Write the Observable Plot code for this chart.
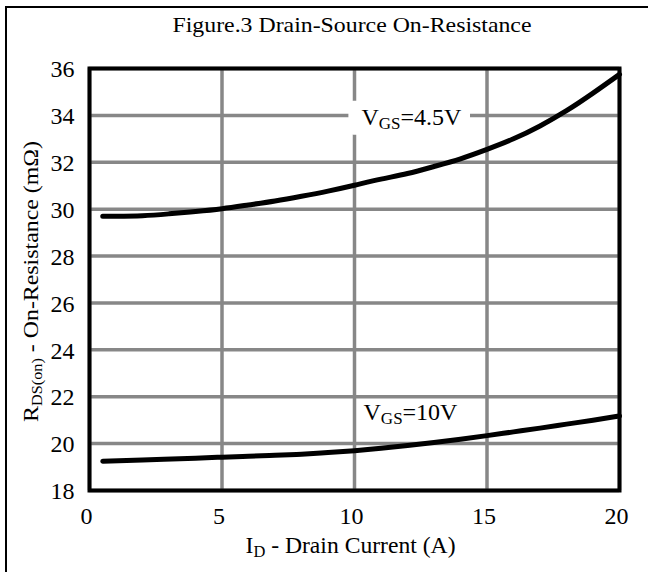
<!DOCTYPE html>
<html>
<head>
<meta charset="utf-8">
<script src="https://cdn.jsdelivr.net/npm/d3@7"></script>
<script src="https://cdn.jsdelivr.net/npm/@observablehq/plot@0.6"></script>
<style>
  html, body { margin: 0; padding: 0; background: #fff; }
  #chart { width: 648px; height: 572px; overflow: hidden; }
  #chart svg, #chart svg text, #chart svg tspan { font-family: "Liberation Serif", "Times New Roman", serif !important; }
</style>
</head>
<body>
<div id="chart"></div>
<script>
const titleText = "Figure.3 Drain-Source On-Resistance";
const xLabelText = "I_{D} - Drain Current (A)";
const yLabelText = "R_{DS(on)} - On-Resistance (mΩ)";

const xTicks = [0, 5, 10, 15, 20];
const yTicks = [18, 20, 22, 24, 26, 28, 30, 32, 34, 36];

// V_GS = 4.5 V curve
const current45 = [0.5, 1, 2, 3, 4, 5, 6, 7, 8, 9, 10, 11, 12, 13, 14, 15, 16, 17, 18, 19, 20];
const res45 = [29.7, 29.7, 29.72, 29.8, 29.9, 30.02, 30.18, 30.35, 30.55, 30.77, 31.02, 31.28, 31.52, 31.82, 32.15, 32.55, 33.0, 33.55, 34.2, 34.95, 35.75];

// V_GS = 10 V curve
const current10 = [0.5, 2, 4, 5, 6, 7, 8, 9, 10, 11, 12, 13, 14, 15, 16, 17, 18, 19, 20];
const res10 = [19.25, 19.3, 19.38, 19.42, 19.46, 19.5, 19.55, 19.62, 19.7, 19.8, 19.92, 20.05, 20.19, 20.34, 20.5, 20.66, 20.83, 21.0, 21.18];

const seriesNames = ["4.5V", "10V"];
const labelTexts = ["V_{GS}=4.5V", "V_{GS}=10V"];
const labelX = [10.26, 10.34];
const labelY = [33.93, 21.35];

const data = [
  ...current45.map((x, i) => ({series: seriesNames[0], x, y: res45[i]})),
  ...current10.map((x, i) => ({series: seriesNames[1], x, y: res10[i]}))
];
const labels = labelTexts.map((t, i) => ({text: t, x: labelX[i], y: labelY[i]}));

const grid = "#878787";
const font = "Liberation Serif";

const plot = Plot.plot({
  width: 648,
  height: 572,
  marginLeft: 89,
  marginRight: 29,
  marginTop: 68,
  marginBottom: 82,
  style: {fontFamily: font, fontSize: "24px", color: "black", background: "white"},
  x: {domain: [0, 20]},
  y: {domain: [18, 36]},
  marks: [
    Plot.gridX(xTicks, {stroke: grid, strokeWidth: 3.5, strokeOpacity: 1}),
    Plot.gridY(yTicks, {stroke: grid, strokeWidth: 3.5, strokeOpacity: 1}),
    Plot.line(data, {x: "x", y: "y", z: "series", stroke: "black", strokeWidth: 5, curve: "natural"}),
    Plot.text(labels, {x: "x", y: "y", text: "text", textAnchor: "start", lineAnchor: "middle", fontSize: 24, fill: "black", className: "curve-label"}),
    Plot.frame({stroke: "black", strokeWidth: 4}),
    Plot.axisX(xTicks, {tickSize: 0, tickPadding: 16, dx: -3, label: null, fontSize: 24}),
    Plot.axisY(yTicks, {tickSize: 0, tickPadding: 15, dy: 1, label: null, fontSize: 24}),
    Plot.text([titleText], {frameAnchor: "top", dy: -44, dx: -2.5, textAnchor: "middle", lineAnchor: "middle", fontSize: 22, className: "title-text"}),
    Plot.text([xLabelText], {frameAnchor: "bottom", dy: 55, dx: -4, textAnchor: "middle", lineAnchor: "middle", fontSize: 23, className: "x-label"}),
    Plot.text([yLabelText], {frameAnchor: "left", dx: -59, dy: 2, rotate: -90, textAnchor: "middle", lineAnchor: "middle", fontSize: 22, className: "y-label"})
  ]
});

document.getElementById("chart").appendChild(plot);

const svgNS = "http://www.w3.org/2000/svg";

// Render "_{...}" as subscripts
function subscriptify(textEl, subSize, shift) {
  const s = textEl.textContent;
  if (!s.includes("_{")) return;
  const parts = s.split(/(_\{[^}]*\})/);
  textEl.textContent = "";
  let shifted = false;
  for (const p of parts) {
    if (!p) continue;
    const t = document.createElementNS(svgNS, "tspan");
    if (p.startsWith("_{")) {
      t.textContent = p.slice(2, -1);
      t.setAttribute("font-size", subSize);
      t.setAttribute("dy", shift);
      shifted = true;
    } else {
      t.textContent = p;
      if (shifted) { t.setAttribute("dy", -shift); shifted = false; }
    }
    textEl.appendChild(t);
  }
}
const root = d3.select(plot);
root.selectAll("g.curve-label text").each(function() { subscriptify(this, 17, 4); });
root.selectAll("g.x-label text").each(function() { subscriptify(this, 16, 4); });
root.selectAll("g.y-label text").each(function() { subscriptify(this, 15, 4); });

// Stretch text to the widths of the (horizontally stretched) source lettering
function fitLength(sel, len) {
  root.selectAll(sel).attr("textLength", len).attr("lengthAdjust", "spacingAndGlyphs");
}
fitLength("g.title-text text", 359);
fitLength("g.x-label text", 210);
fitLength("g.y-label text", 281);

// White box behind the upper curve label
root.selectAll("g.curve-label text").each(function() {
  const el = this;
  if (!el.textContent.startsWith("VGS=4.5")) return;
  const bb = el.getBBox();
  const rect = document.createElementNS(svgNS, "rect");
  const tr = el.getAttribute("transform");
  if (tr) rect.setAttribute("transform", tr);
  rect.setAttribute("x", bb.x - 13);
  rect.setAttribute("y", bb.y - 3);
  rect.setAttribute("width", bb.width + 21);
  rect.setAttribute("height", bb.height + 5);
  rect.setAttribute("rx", 5);
  rect.setAttribute("fill", "white");
  el.parentNode.insertBefore(rect, el);
});

// Outer figure border (open at right and bottom, as in the source image)
root.append("path")
  .attr("d", "M6,572V7H648")
  .attr("fill", "none")
  .attr("stroke", "black")
  .attr("stroke-width", 2);
</script>
</body>
</html>
